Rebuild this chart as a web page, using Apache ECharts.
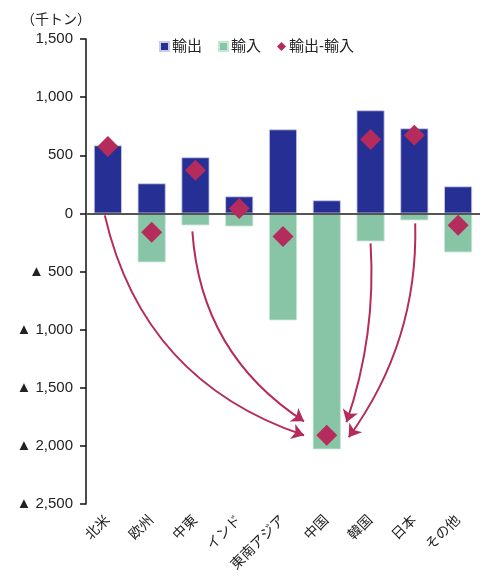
<!DOCTYPE html>
<html>
<head>
<meta charset="utf-8">
<script src="https://cdn.jsdelivr.net/npm/echarts@6/dist/echarts.min.js"></script>
<style>
  html, body { margin: 0; padding: 0; background: #fff; }
  #chart { width: 480px; height: 576px; }
</style>
</head>
<body>
<div id="chart"></div>
<script>
// 地域別 輸出・輸入 (千トン)
var categories = ['北米', '欧州', '中東', 'インド', '東南アジア', '中国', '韓国', '日本', 'その他'];
var exportsData = [585, 258, 482, 146, 722, 112, 886, 731, 232];
var importsData = [0, -421, -103, -112, -920, -2030, -241, -60, -335];
var netData = [576, -163, 370, 43, -198, -1909, 636, 671, -103];

// 矢印 (始点・終点はカテゴリ番号と値で指定)
var arrowFrom = [[-0.07, -17], [1.93, -155], [6.0, -258], [7.02, -86]];
var arrowTo = [[4.48, -1909], [4.48, -1789], [5.45, -1797], [5.5, -1926]];
var arrowCurve = [-0.28, -0.25, 0.1, 0.17];

var FONT = '"Liberation Sans", "Noto Sans CJK JP", sans-serif';
var BLUE = '#263094';
var GREEN = '#88C4A6';
var RED = '#B52B5C';

function fmt(v) {
    var a = Math.abs(v).toString().replace(/\B(?=(\d{3})+(?!\d))/g, ',');
    return v < 0 ? '▲ ' + a : a;
}

var arrowData = [];
for (var i = 0; i < arrowFrom.length; i++) {
    arrowData.push({
        coords: [arrowFrom[i], arrowTo[i]],
        lineStyle: { curveness: arrowCurve[i] }
    });
}

var chart = echarts.init(document.getElementById('chart'));
chart.setOption({
    animation: false,
    textStyle: { fontFamily: FONT },
    title: {
        text: '（千トン）',
        left: 16,
        top: 8,
        textStyle: { fontSize: 14, fontWeight: 'normal', color: '#222', fontFamily: FONT }
    },
    legend: {
        top: 34,
        left: 154,
        itemGap: 16,
        itemWidth: 9,
        itemHeight: 9,
        textStyle: { fontSize: 15, color: '#222', fontFamily: FONT, padding: [0, 0, 0, -2] },
        data: [
            { name: '輸出', icon: 'rect' },
            { name: '輸入', icon: 'rect' },
            { name: '輸出-輸入', icon: 'diamond', itemStyle: { color: RED } }
        ]
    },
    grid: { left: 86, top: 39, width: 396, bottom: 72 },
    xAxis: [{
        type: 'category',
        data: categories,
        axisLine: { show: false },
        axisTick: { show: false },
        axisLabel: {
            rotate: 45,
            margin: 14,
            fontSize: 14,
            color: '#222',
            fontFamily: FONT
        }
    }, {
        // 矢印用の補助軸 (非表示)
        type: 'value',
        min: -0.5,
        max: 8.5,
        show: false
    }],
    yAxis: {
        type: 'value',
        min: -2500,
        max: 1500,
        interval: 500,
        splitLine: { show: false },
        axisLine: { show: true, onZero: false, lineStyle: { color: '#111', width: 1.5 } },
        axisTick: { show: true, length: 6, lineStyle: { color: '#111', width: 1.5 } },
        axisLabel: {
            fontSize: 15,
            color: '#222',
            margin: 13,
            fontFamily: FONT,
            formatter: fmt
        }
    },
    series: [{
        name: '輸出',
        type: 'bar',
        stack: 'trade',
        barWidth: 28,
        itemStyle: { color: BLUE, borderColor: '#c9cbe8', borderWidth: 0.8 },
        data: exportsData,
        markLine: {
            silent: true,
            symbol: 'none',
            label: { show: false },
            lineStyle: { color: '#555', width: 2, type: 'solid' },
            data: [{ yAxis: 0 }]
        }
    }, {
        name: '輸入',
        type: 'bar',
        stack: 'trade',
        barWidth: 28,
        itemStyle: { color: GREEN, borderColor: '#c8e6d6', borderWidth: 0.8 },
        data: importsData
    }, {
        name: '矢印',
        type: 'lines',
        coordinateSystem: 'cartesian2d',
        xAxisIndex: 1,
        silent: true,
        symbol: ['none', 'arrow'],
        symbolSize: 12,
        lineStyle: { color: RED, width: 2, opacity: 1 },
        data: arrowData,
        z: 4
    }, {
        name: '輸出-輸入',
        type: 'scatter',
        symbol: 'diamond',
        symbolSize: 21,
        itemStyle: { color: RED, opacity: 1 },
        data: netData,
        z: 5
    }]
});
</script>
</body>
</html>
